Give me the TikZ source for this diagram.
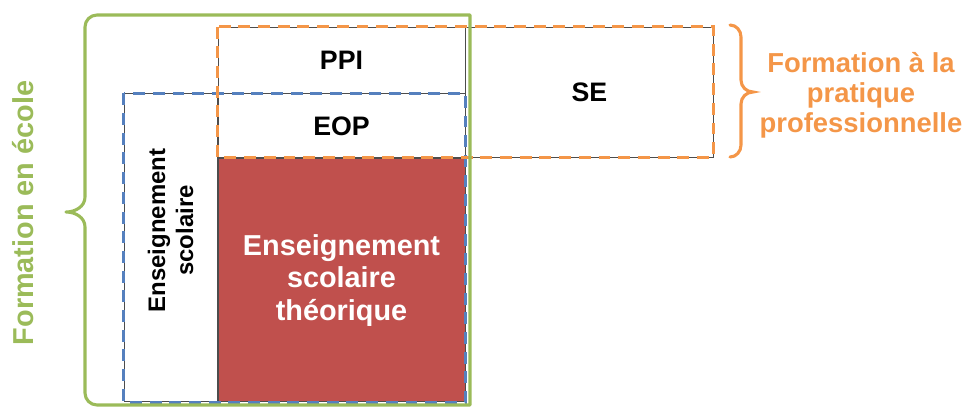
\documentclass[tikz,border=0pt]{standalone}
\usepackage{fontspec}
\setmainfont{Liberation Sans}
\usetikzlibrary{positioning}
\definecolor{ecolegreen}{RGB}{155,187,89}
\definecolor{pratorange}{RGB}{244,150,72}
\definecolor{scolblue}{RGB}{85,128,190}
\definecolor{theored}{RGB}{192,80,77}
\begin{document}
\begin{tikzpicture}[x=0.025cm, y=-0.025cm,
	every node/.style={align=center, inner sep=0pt},
	cell/.style={rectangle, draw=black!70, line width=0.6pt, fill=white, font=\fontsize{19}{21}\bfseries},
	orangedash/.style={draw=pratorange, line width=2.5pt, dash pattern=on 8.5pt off 5.5pt},
	bluedash/.style={draw=scolblue, line width=2.2pt, dash pattern=on 8.5pt off 5.5pt},
	greenline/.style={draw=ecolegreen, line width=2.2pt, line join=round},
	orangeline/.style={draw=pratorange, line width=2.2pt, line cap=round}]
	\useasboundingbox (0,0) rectangle (976,408);
	% cases
	\node[cell, minimum width=6.175cm, minimum height=1.65cm] (ppi) at (341.5,60) {PPI};
	\node[cell, below=0pt of ppi, minimum width=6.175cm, minimum height=1.6cm] (eop) {EOP};
	\node[cell, below=0pt of eop, fill=theored, text=white, minimum width=6.175cm, minimum height=6.075cm, font=\fontsize{20.5}{23}\bfseries] (theo) {Enseignement\\scolaire\\théorique};
	\node[cell, anchor=north east, minimum width=2.325cm, minimum height=7.675cm] (scol) at (eop.north west) {};
	\node[rotate=90, font=\fontsize{17}{20}\bfseries] (scoltxt) at ([yshift=12pt]scol.center) {Enseignement\\scolaire};
	\node[cell, anchor=north west, minimum width=6.175cm, minimum height=3.25cm] (se) at (ppi.north east) {SE};
	% pointilles
	\draw[bluedash] (scol.north west) rectangle (theo.south east);
	\draw[orangedash] (ppi.north west) rectangle (se.south east);
	% accolades
	\draw[greenline] (470,15) -- (97,15) to[out=180,in=90] (85,27) -- (85,197)
		to[out=-90,in=0] (66,212) to[out=0,in=90] (85,227) -- (85,393)
		to[out=-90,in=180] (97,405) -- (470,405) -- cycle;
	\draw[orangeline] (730,25) to[out=0,in=90] (741,37) -- (741,80)
		to[out=-90,in=180] (753,92) to[out=180,in=90] (741,104) -- (741,145)
		to[out=-90,in=0] (730,157);
	\node[rotate=90, text=ecolegreen, font=\fontsize{20.5}{22}\bfseries] (ecole) at (23,213) {Formation en école};
	\node[text=pratorange, font=\fontsize{19.5}{21.3}\bfseries] (pratique) at (861,95) {Formation à la\\pratique\\professionnelle};
\end{tikzpicture}
\end{document}
